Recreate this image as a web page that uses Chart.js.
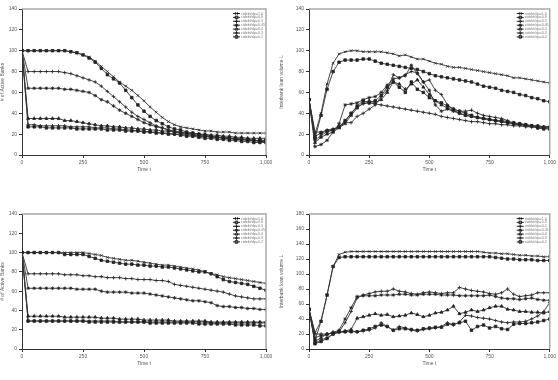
<!DOCTYPE html>
<html>
<head>
<meta charset="utf-8">
<script src="https://cdn.jsdelivr.net/npm/chart.js@4.4.1/dist/chart.umd.min.js"></script>
<style>
  body { margin: 0; background: #fff; }
  .panel { position: absolute; width: 279px; height: 190px; }
</style>
</head>
<body>
<div class="panel" style="left:0;top:0"><canvas id="banksA"></canvas></div>
<div class="panel" style="left:279px;top:0"><canvas id="loansA"></canvas></div>
<div class="panel" style="left:0;top:190px"><canvas id="banksB"></canvas></div>
<div class="panel" style="left:279px;top:190px"><canvas id="loansB"></canvas></div>
<script>
// eje temporal compartido por los cuatro paneles
const times = [0,25,50,75,100,125,150,175,200,225,250,275,300,325,350,375,400,425,450,475,500,
  525,550,575,600,625,650,675,700,725,750,775,800,825,850,875,900,925,950,975,1000];
const seriesLabels = ["ctdebt/dp=1.0","ctdebt/dp=0.8","ctdebt/dp=0.5","ctdebt/dp=0.45",
  "ctdebt/dp=0.4","ctdebt/dp=0.3","ctdebt/dp=0.2"];
const xTicks = [0, 250, 500, 750, 1000];

// panel arriba izquierda: # of Active Banks
const banksA1 = [100,100,100,100,100,100,100,100,99,98,96,94,90,85,80,75,70,66,62,57,52,46,41,36,32,29,27,26,25,24,23,23,22,22,22,21,21,21,21,21,21];
const banksA2 = [100,100,100,100,100,100,100,100,99,98,96,93,89,83,77,73,69,62,55,48,42,37,33,30,27,25,24,22,21,20,19,18,17,17,16,16,15,15,14,14,14];
const banksA3 = [100,80,80,80,80,80,80,79,78,76,74,72,70,66,61,56,51,46,41,37,34,31,28,26,24,22,21,20,19,18,18,17,17,16,16,15,15,14,14,13,13];
const banksA4 = [100,64,64,64,64,64,64,63,63,62,61,60,57,53,51,47,43,40,37,34,31,29,27,26,24,23,22,21,20,19,18,18,17,17,16,16,15,15,14,14,14];
const banksA5 = [100,35,35,35,35,35,35,33,33,32,31,30,29,28,28,27,27,26,26,25,25,24,24,23,23,22,22,21,21,20,20,19,19,18,18,17,17,16,16,16,16];
const banksA6 = [100,29,29,28,28,28,28,28,27,27,27,27,26,26,26,25,25,24,24,23,23,22,22,21,21,20,20,19,19,18,18,17,17,16,16,15,15,14,14,13,13];
const banksA7 = [100,27,27,27,26,26,26,26,26,25,25,25,25,25,24,24,24,23,23,23,22,22,21,21,20,20,19,18,18,17,16,16,15,15,14,14,13,13,12,12,12];

// panel arriba derecha: Interbank loan volume L
const loansA1 = [53,20,40,68,88,97,99,100,100,99,99,99,99,98,97,95,96,94,92,92,90,88,87,85,84,84,83,82,81,80,79,78,77,76,74,74,73,72,71,70,69];
const loansA2 = [53,16,38,63,80,89,91,91,91,92,92,90,88,87,86,85,84,83,82,80,78,76,75,74,73,72,71,70,68,66,65,64,62,61,60,58,57,55,54,52,51];
const loansA3 = [53,22,22,24,25,27,32,40,46,49,50,49,48,47,46,45,44,43,42,41,40,39,37,36,35,34,33,32,32,31,30,30,29,29,28,28,27,27,27,26,26];
const loansA4 = [53,8,10,14,22,30,48,49,50,53,55,56,60,67,73,74,76,86,78,70,62,48,42,44,42,40,38,37,36,35,34,33,32,31,30,29,29,28,28,27,27];
const loansA5 = [53,12,17,20,22,26,30,38,45,50,52,50,53,60,70,68,63,68,72,65,58,52,48,45,43,40,38,37,36,35,34,33,32,31,30,30,29,28,28,27,27];
const loansA6 = [53,14,19,22,24,27,31,31,37,40,44,48,56,62,77,74,77,80,79,70,72,62,58,48,44,42,42,43,40,38,37,36,35,33,30,29,28,27,26,26,26];
const loansA7 = [53,18,21,23,24,27,33,40,47,52,50,52,57,65,70,65,60,70,63,60,55,52,50,47,44,42,40,38,36,35,34,33,33,32,31,30,29,28,26,25,25];

// panel abajo izquierda
const banksB1 = [100,100,100,100,100,100,100,100,100,100,100,99,98,97,95,94,93,92,92,91,90,89,88,87,87,86,85,84,83,82,80,78,77,75,74,73,72,71,70,69,68];
const banksB2 = [100,100,100,100,100,100,100,98,98,98,98,96,94,92,91,90,89,88,88,87,87,86,86,85,85,84,83,82,81,80,80,78,75,72,70,69,68,67,65,63,61];
const banksB3 = [100,78,78,78,78,78,78,77,77,77,76,76,75,75,74,74,74,73,73,72,72,72,71,71,70,67,66,65,64,63,62,61,60,59,57,55,54,53,52,52,52];
const banksB4 = [100,63,63,63,63,63,63,63,63,62,62,62,62,60,59,59,59,59,58,58,58,57,56,55,54,53,52,51,50,50,49,48,45,44,44,43,43,42,42,41,41];
const banksB5 = [100,34,34,34,34,34,34,33,33,33,33,33,33,32,32,32,31,31,31,31,30,30,30,30,30,29,29,29,29,29,29,28,28,28,28,28,28,28,28,28,28];
const banksB6 = [100,29,29,29,29,29,29,29,29,29,29,29,29,29,29,29,28,28,28,28,28,28,28,28,28,28,28,28,28,28,28,27,27,27,27,27,27,27,27,27,27];
const banksB7 = [100,29,29,29,29,29,29,29,29,29,29,28,28,28,28,28,28,28,28,28,28,27,27,27,27,27,27,27,27,26,26,26,26,26,26,25,25,25,25,24,24];

// panel abajo derecha
const loansB1 = [53,22,37,72,110,126,129,130,130,130,130,130,130,130,130,130,130,130,130,130,130,130,130,130,130,130,130,130,130,129,128,128,127,127,126,125,125,124,124,123,123];
const loansB2 = [53,12,37,72,110,122,123,123,123,123,123,123,123,123,123,123,123,123,123,123,123,123,123,123,123,123,123,123,123,123,123,122,121,120,120,119,119,119,118,118,118];
const loansB3 = [53,20,20,20,22,23,35,50,68,72,74,76,77,77,80,77,76,74,73,75,76,75,74,75,75,82,80,78,77,76,74,73,75,80,73,70,71,72,75,75,75];
const loansB4 = [53,15,18,19,22,25,40,55,70,71,71,71,72,72,72,73,73,72,72,73,73,73,72,72,72,71,71,71,71,71,72,70,68,67,67,66,67,68,66,65,65];
const loansB5 = [53,10,15,20,22,23,24,26,41,43,45,47,45,46,43,44,45,48,46,43,45,48,49,52,57,47,49,52,50,52,55,57,57,53,52,50,50,49,49,48,50];
const loansB6 = [53,8,12,15,20,22,23,24,23,24,25,28,35,30,25,30,28,25,24,26,27,28,30,35,32,36,45,44,42,41,40,38,36,35,36,36,37,40,44,50,62];
const loansB7 = [53,7,10,14,20,23,23,23,23,25,27,30,32,30,25,27,27,26,25,27,28,29,29,33,33,35,37,25,30,32,28,30,27,26,33,34,34,35,36,38,40];

const markers = ["crossRot", "rect", "cross", "star", "triangle", "cross", "rect"];
const tickFont = { family: "Liberation Sans", size: 5 };

// leyenda dibujada dentro del área del gráfico, arriba a la derecha
const insideLegend = {
  id: "insideLegend",
  afterDraw(chart) {
    const ctx = chart.ctx;
    const area = chart.chartArea;
    // marco gris arriba y a la derecha
    ctx.save();
    ctx.strokeStyle = "#a8a8a8";
    ctx.lineWidth = 1.5;
    ctx.beginPath();
    ctx.moveTo(area.left, area.top);
    ctx.lineTo(area.right, area.top);
    ctx.lineTo(area.right, area.bottom);
    ctx.stroke();
    chart.data.datasets.forEach((ds, i) => {
      const y = area.top + 4.5 + i * 3.9;
      const x0 = area.right - 33;
      ctx.strokeStyle = "#222";
      ctx.lineWidth = 1;
      ctx.beginPath();
      ctx.moveTo(x0, y);
      ctx.lineTo(x0 + 7, y);
      ctx.stroke();
      Chart.helpers.drawPoint(ctx, { pointStyle: ds.pointStyle, radius: 1.8, borderWidth: 0.8 }, x0 + 3.5, y);
      ctx.fillStyle = "#777";
      ctx.font = "3.6px 'Liberation Sans'";
      ctx.textBaseline = "middle";
      ctx.fillText(ds.label, area.right - 25, y);
    });
    ctx.restore();
  },
};

function makeChart(id, series, yMax, yTitle, yWidth, pad) {
  const ctx = document.getElementById(id).getContext("2d");
  return new Chart(ctx, {
    type: "line",
    data: {
      datasets: series.map((values, i) => ({
        label: seriesLabels[i],
        data: times.map((t, k) => ({ x: t, y: values[k] })),
        borderColor: "#333",
        borderWidth: 0.9,
        pointStyle: markers[i],
        pointRadius: 1.8,
        pointBorderWidth: 0.8,
        pointBorderColor: "#222",
        pointBackgroundColor: "#222",
        fill: false,
        tension: 0,
      })),
    },
    options: {
      responsive: true,
      maintainAspectRatio: false,
      animation: false,
      layout: { padding: pad },
      plugins: { legend: { display: false }, tooltip: { enabled: false } },
      scales: {
        x: {
          type: "linear",
          min: 0,
          max: 1000,
          afterBuildTicks: (scale) => { scale.ticks = xTicks.map((v) => ({ value: v })); },
          afterFit: (scale) => { scale.height = 22; },
          grid: { drawOnChartArea: false, tickLength: 3, color: "#333" },
          border: { color: "#333", width: 1 },
          ticks: { font: tickFont, color: "#555", padding: 2, maxRotation: 0 },
          title: { display: true, text: "Time t", font: tickFont, color: "#555", padding: { top: 3 } },
        },
        y: {
          min: 0,
          max: yMax,
          afterFit: (scale) => { scale.width = yWidth; },
          grid: { drawOnChartArea: false, tickLength: 3, color: "#333" },
          border: { color: "#333", width: 1 },
          ticks: { stepSize: 20, font: tickFont, color: "#555", padding: 2 },
          title: { display: true, text: yTitle, font: tickFont, color: "#555", padding: 0 },
        },
      },
    },
    plugins: [insideLegend],
  });
}

document.addEventListener("DOMContentLoaded", function () {
  makeChart("banksA", [banksA1, banksA2, banksA3, banksA4, banksA5, banksA6, banksA7],
    140, "# of Active Banks", 22, { top: 9, right: 13, bottom: 13, left: 0 });
  makeChart("loansA", [loansA1, loansA2, loansA3, loansA4, loansA5, loansA6, loansA7],
    140, "Interbank loan volume L", 30, { top: 9, right: 6, bottom: 13, left: 0 });
  makeChart("banksB", [banksB1, banksB2, banksB3, banksB4, banksB5, banksB6, banksB7],
    140, "# of Active Banks", 22, { top: 24, right: 13, bottom: 9, left: 0 });
  makeChart("loansB", [loansB1, loansB2, loansB3, loansB4, loansB5, loansB6, loansB7],
    180, "Interbank loan volume L", 30, { top: 24, right: 6, bottom: 9, left: 0 });
});
</script>
</body>
</html>
